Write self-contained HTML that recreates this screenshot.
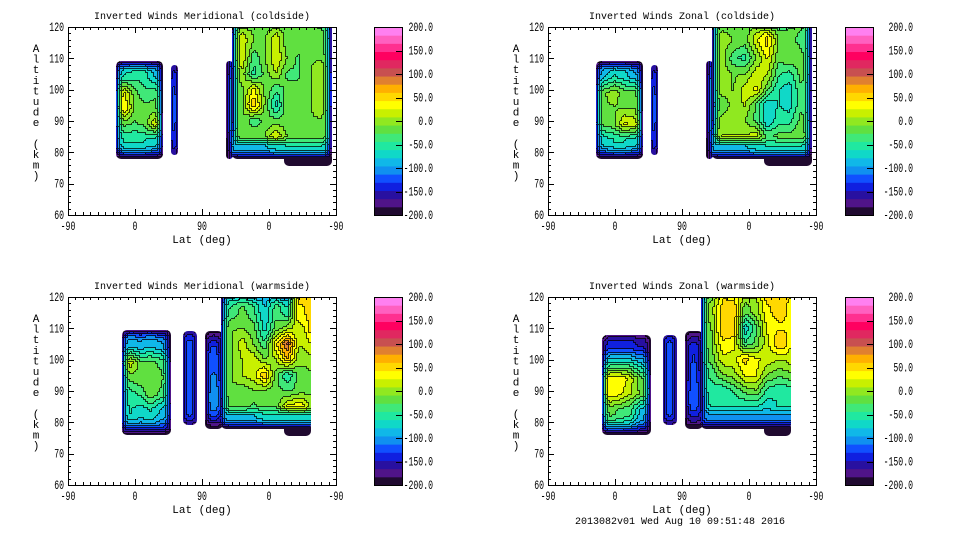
<!DOCTYPE html>
<html><head><meta charset="utf-8"><style>
html,body{margin:0;padding:0;background:#fff;}
svg{display:block;}
text{font-family:"Liberation Mono","DejaVu Sans Mono",monospace;fill:#000;}
</style></head><body>
<svg id="chart" width="960" height="540" viewBox="0 0 960 540" xmlns="http://www.w3.org/2000/svg">
<rect width="960" height="540" fill="#fff"/>
<text x="680" y="524" font-size="10" text-anchor="middle">2013082v01 Wed Aug 10 09:51:48 2016</text>
</svg>
<script>
// ---- colour scale ----
const colorLevels = ['#200a30','#501488','#2810a0','#1020e0','#1050ff','#1090f0','#10b8e8','#10d8c8','#20e8a0','#40e878','#60e040','#90e820','#c8f000','#ffff00','#ffd800','#ffb000','#e08030','#c85050','#e02860','#ff0060','#ff3090','#ff60c0','#ff80f0'];
const colorbarTicks = [-200,-150,-100,-50,0,50,100,150,200];
const xTickLabels = ['-90','0','90','0','-90'];
const xTickPos = [0,90,180,270,360];
const yTickLabels = [60,70,80,90,100,110,120];
const panelTitles = ['Inverted Winds Meridional (coldside)','Inverted Winds Zonal (coldside)','Inverted Winds Meridional (warmside)','Inverted Winds Zonal (warmside)'];

// ---- data: blocks (lat-axis units 0..360, altitude km, wind values m/s) ----
const tlA_lat=[64,77,90,103,116,128];
const tlA_alt=[109,104,99,94,89,84,78];
const tlA_val=[[-200,-190,-190,-190,-190,-200],[-190,-60,-50,-50,-80,-200],[-200,30,-20,-40,-30,-200],[-200,40,-10,-20,-20,-200],[-180,-20,-30,-20,20,-190],[-170,-60,-60,-60,-70,-170],[-200,-200,-200,-200,-200,-200]];
const tlB_lat=[138,143,148];
const tlB_alt=[108,94,79];
const tlB_val=[[-170,-160,-170],[-160,-125,-160],[-170,-160,-170]];
const tlE_lat=[290,355];
const tlE_alt=[80,75.5];
const tlE_val=[[-190,-190],[-200,-200]];
const tlN_lat=[212,222];
const tlN_alt=[109,95,78];
const tlN_val=[[-190,-120],[-200,-60],[-200,-150]];
const tlC_lat=[220,235,250,265,280,295,310,325,340,355];
const tlC_alt=[120,115,110,105,100,95,90,85,82,78];
const tlC_val=[
[-200,-20,-20,-20,-20,-20,-20,-20,-30,-200],
[-200,20,-10,-10,20,-20,-10,-10,-20,-200],
[-200,25,-40,-10,25,-10,-30,-10,-10,-200],
[-200,0,-50,-20,10,-30,-30,-10,0,-200],
[-200,-10,30,-10,-40,-20,-20,-10,0,-200],
[-200,-10,60,-10,-70,-10,-20,-10,0,-200],
[-200,-10,-40,-20,-20,-20,-20,-10,-10,-200],
[-150,-10,-10,-10,30,-10,-20,-20,-10,-200],
[-100,-80,-80,-80,-70,-60,-60,-60,-60,-200],
[-200,-200,-200,-200,-200,-200,-200,-200,-200,-200]];
const trA_lat=[64,77,90,103,116,128];
const trA_alt=[109,104,99,94,89,84,78];
const trA_val=[[-200,-190,-190,-190,-190,-200],[-190,-80,-60,-70,-90,-200],[-200,-10,0,-20,-20,-200],[-200,-10,-10,-10,-10,-200],[-180,-20,-10,30,20,-190],[-170,-70,-60,-60,-70,-170],[-200,-200,-200,-200,-200,-200]];
const trB_lat=[138,143,148];
const trB_alt=[108,94,79];
const trB_val=[[-170,-160,-170],[-160,-125,-160],[-170,-160,-170]];
const trE_lat=[290,355];
const trE_alt=[80,75.5];
const trE_val=[[-190,-190],[-200,-200]];
const trN_lat=[212,222];
const trN_alt=[109,95,78];
const trN_val=[[-190,-120],[-200,-60],[-200,-150]];
const trC_lat=[220,235,250,265,280,295,310,325,340,355];
const trC_alt=[120,115,110,105,100,95,90,85,82,78];
const trC_val=[
[-200,-20,-20,-20,-20,-30,-40,-30,-20,-200],
[-200,0,-10,-20,20,50,-10,-20,-30,-200],
[-200,0,-40,-50,-10,30,-20,-10,-20,-200],
[-200,0,-10,-10,20,10,-40,-50,-20,-200],
[-200,0,-10,20,30,-20,-60,-70,-30,-200],
[-200,-20,0,10,-30,-80,-60,-70,-30,-200],
[-200,0,0,-10,-30,-80,-50,-50,-20,-200],
[-150,10,10,10,20,-30,-20,-20,-10,-200],
[-100,-80,-80,-80,-70,-60,-60,-60,-60,-200],
[-200,-200,-200,-200,-200,-200,-200,-200,-200,-200]];
const blA_lat=[72,85,98,111,124,139];
const blA_alt=[109.5,104,99,94,89,84,76];
const blA_val=[[-200,-190,-190,-190,-190,-200],[-190,-80,-90,-80,-90,-200],[-200,20,-20,-20,-30,-200],[-200,-20,-10,-20,-20,-200],[-190,-50,-40,-10,-30,-190],[-170,-60,-70,-60,-80,-170],[-200,-200,-200,-200,-200,-200]];
const blB_lat=[155,164,173];
const blB_alt=[109,104,84,79];
const blB_val=[[-175,-165,-175],[-160,-125,-160],[-160,-125,-160],[-175,-175,-175]];
const blE_lat=[290,327];
const blE_alt=[80,75.5];
const blE_val=[[-190,-190],[-200,-200]];
const blN_lat=[184,196,208];
const blN_alt=[109,100,88,78];
const blN_val=[[-200,-190,-190],[-190,-120,-190],[-190,-100,-150],[-200,-200,-200]];
const blC_lat=[205,220,235,250,265,280,295,310,327];
const blC_alt=[120,115,110,105,100,95,90,85,82,78];
const blC_val=[
[-200,-90,-80,-100,-90,-100,-110,60,60],
[-200,-40,-20,-40,-80,-30,-60,40,60],
[-200,-10,-10,-20,-70,-20,0,20,60],
[-200,-10,20,-10,-40,40,100,10,30],
[-200,-10,10,20,-10,10,60,0,0],
[-200,-10,10,20,60,-20,-60,-20,-10],
[-200,-10,-20,-10,-10,-20,-30,-20,-10],
[-200,-20,-20,-30,-20,-20,30,40,-10],
[-150,-80,-80,-80,-70,-70,-70,-70,-70],
[-200,-200,-200,-200,-200,-200,-200,-200,-200]];
const brA_lat=[72,85,98,111,124,139];
const brA_alt=[108,104,99,94,89,84,76];
const brA_val=[[-200,-190,-190,-190,-190,-200],[-190,-140,-140,-140,-150,-200],[-200,-60,-60,-60,-80,-200],[-200,40,40,20,-20,-200],[-200,40,30,10,-10,-200],[-180,-20,-30,-40,-80,-190],[-200,-200,-200,-200,-200,-200]];
const brB_lat=[155,164,173];
const brB_alt=[108,104,84,79];
const brB_val=[[-175,-165,-175],[-160,-125,-160],[-160,-125,-160],[-175,-175,-175]];
const brE_lat=[290,327];
const brE_alt=[80,75.5];
const brE_val=[[-190,-190],[-200,-200]];
const brN_lat=[184,196,208];
const brN_alt=[109,100,88,78];
const brN_val=[[-200,-190,-190],[-190,-130,-190],[-190,-120,-160],[-200,-200,-200]];
const brC_lat=[205,220,235,250,265,280,295,310,327];
const brC_alt=[120,115,110,105,100,95,90,85,82,78];
const brC_val=[
[-200,-20,40,30,20,10,60,60,40],
[-200,0,50,60,-20,0,40,50,30],
[-200,-10,60,60,-80,-30,30,40,40],
[-200,-10,40,30,-40,-20,20,60,20],
[-200,-20,20,20,50,30,20,10,20],
[-200,-40,-10,0,30,30,-10,-20,-10],
[-200,-50,-60,-40,-20,-10,-50,-60,-50],
[-200,-60,-60,-60,-60,-60,-70,-60,-60],
[-150,-100,-100,-100,-100,-100,-100,-100,-100],
[-200,-200,-200,-200,-200,-200,-200,-200,-200]];

const panelBlocks=[
 [[tlE_lat,tlE_alt,tlE_val],[tlA_lat,tlA_alt,tlA_val],[tlB_lat,tlB_alt,tlB_val],[tlN_lat,tlN_alt,tlN_val],[tlC_lat,tlC_alt,tlC_val]],
 [[trE_lat,trE_alt,trE_val],[trA_lat,trA_alt,trA_val],[trB_lat,trB_alt,trB_val],[trN_lat,trN_alt,trN_val],[trC_lat,trC_alt,trC_val]],
 [[blE_lat,blE_alt,blE_val],[blA_lat,blA_alt,blA_val],[blB_lat,blB_alt,blB_val],[blN_lat,blN_alt,blN_val],[blC_lat,blC_alt,blC_val]],
 [[brE_lat,brE_alt,brE_val],[brA_lat,brA_alt,brA_val],[brB_lat,brB_alt,brB_val],[brN_lat,brN_alt,brN_val],[brC_lat,brC_alt,brC_val]]
];
const panelNames=['meridional-coldside','zonal-coldside','meridional-warmside','zonal-warmside'];

// ---- scales ----
const PX0=68,PX1=336,PY0=27,PY1=215;
function xs(u){return PX0+u*(PX1-PX0)/360;}
function ys(a){return PY1-(a-60)*(PY1-PY0)/60;}
function ux(x){return (x-PX0)*360/(PX1-PX0);}
function ay(y){return 60+(PY1-y)*60/(PY1-PY0);}
function band(v){const n=colorLevels.length;let i=Math.floor((v+200)/(400/n));return Math.max(0,Math.min(n-1,i));}
function seg(arr,v,desc){
  const n=arr.length;let i,t;
  if(desc? v>=arr[0]:v<=arr[0]){i=0;t=0;}
  else if(desc? v<=arr[n-1]:v>=arr[n-1]){i=n-2;t=1;}
  else{for(i=0;i<n-1;i++){const a=arr[i],b=arr[i+1];if(desc?(v<=a&&v>=b):(v>=a&&v<=b)){t=(v-a)/(b-a);break;}}}
  if(n>2){ if(i===0) t=1-Math.pow(1-t,2.5); else if(i===n-2) t=Math.pow(t,2.5); }
  return [i,t];
}
function interp(lat,alt,val,u,a){
  const [i,t]=seg(lat,u,false);const [j,s]=seg(alt,a,true);
  const v00=val[j][i],v01=val[j][i+1],v10=val[j+1][i],v11=val[j+1][i+1];
  return (v00*(1-t)+v01*t)*(1-s)+(v10*(1-t)+v11*t)*s;
}
const NS='http://www.w3.org/2000/svg';
const svg=document.getElementById('chart');
function mk(tag,attrs,parent){const e=document.createElementNS(NS,tag);for(const k in attrs)e.setAttribute(k,attrs[k]);parent.appendChild(e);return e;}
function label(parent,x,y,str,anchor){
  const t=mk('text',{x:x,y:y,'font-size':13,'text-anchor':anchor,textLength:(str.length*4.9).toFixed(1),lengthAdjust:'spacingAndGlyphs'},parent);
  t.textContent=str;return t;
}

const offsets=[[0,0],[480,0],[0,270],[480,270]];
const STEP=2;
panelBlocks.forEach((blocks,p)=>{
  const [dx,dy]=offsets[p];
  const g=mk('g',{transform:`translate(${dx},${dy})`},svg);
  
  
  const defs=mk('defs',{},g);
  const plot=mk('g',{},g);
  
  
  blocks.forEach((blk,b)=>{
    const [lat,alt,val]=blk;
    const x0=Math.round(xs(lat[0])),x1=Math.round(xs(lat[lat.length-1]));
    const yT=Math.round(ys(Math.max(...alt))),yB=Math.round(ys(Math.min(...alt)));
    const cid='clip'+p+'_'+b;
    const cp=mk('clipPath',{id:cid},defs);
    const topIsPlotTop = Math.max(...alt)>=120;
    mk('rect',{x:x0,y:topIsPlotTop?yT-8:yT,width:x1-x0,height:(yB-yT)+(topIsPlotTop?8:0),rx:Math.min(5,(x1-x0)/2)},cp);
    const bg=mk('g',{'clip-path':`url(#${cid})`},plot);
    
    
    const cols=Math.ceil((x1-x0)/STEP),rows=Math.ceil((yB-yT)/STEP);
    const grid=[];
    for(let r=0;r<rows;r++){const row=[];const a=ay(yT+r*STEP+STEP/2);
      for(let c=0;c<cols;c++){const u=ux(x0+c*STEP+STEP/2);row.push(band(interp(lat,alt,val,u,a)));}
      grid.push(row);}
    for(let r=0;r<rows;r++){let c=0;
      while(c<cols){const bd=grid[r][c];let e=c+1;while(e<cols&&grid[r][e]===bd)e++;
        const cell=mk('rect',{x:x0+c*STEP,y:yT+r*STEP,width:(e-c)*STEP,height:STEP,fill:colorLevels[bd]},bg);
        
        
        c=e;}}
    let d='';
    for(let r=0;r<rows;r++)for(let c=0;c<cols;c++){
      const bd=grid[r][c];const xx=x0+c*STEP,yy=yT+r*STEP;
      if(c+1<cols&&grid[r][c+1]!==bd)d+=`M${xx+STEP-0.5} ${yy}v${STEP}`;
      if(r+1<rows&&grid[r+1][c]!==bd)d+=`M${xx} ${yy+STEP-0.5}h${STEP}`;
    }
    const cl=mk('path',{d:d,stroke:'#000','stroke-width':1,fill:'none',opacity:0.75},bg);
    
    
  });
  mk('rect',{x:PX0-2,y:PY0-12,width:PX1-PX0+4,height:12,fill:'#fff'},g);
  const frame=mk('rect',{x:PX0+0.5,y:PY0+0.5,width:PX1-PX0,height:PY1-PY0,fill:'none',stroke:'#000','stroke-width':1},g);
  
  
  let td='';
  for(let a=60;a<=120;a+=2){const y=Math.round(ys(a))+0.5;const L=(a%10===0)?6:3;td+=`M${PX0} ${y}h${L}M${PX1} ${y}h${-L}`;}
  for(let u=0;u<=360;u+=10){const x=Math.round(xs(u))+0.5;const L=(u%90===0)?6:3;td+=`M${x} ${PY1}v${-L}M${x} ${PY0}v${L}`;}
  const ticks=mk('path',{d:td,stroke:'#000','stroke-width':1,fill:'none'},g);
  
  
  yTickLabels.forEach(a=>{const t=label(g,PX0-4,ys(a)+4,String(a),'end');
    
    });
  xTickPos.forEach((u,i)=>{const t=label(g,xs(u),230,xTickLabels[i],'middle');
    
    });
  const xt=mk('text',{x:202,y:243,'font-size':11,'text-anchor':'middle'},g);xt.textContent='Lat (deg)';
  
  
  const tt=mk('text',{x:202,y:19,'font-size':10,'text-anchor':'middle'},g);tt.textContent=panelTitles[p];
  
  
  const yt=mk('text',{x:36,y:52,'font-size':11,'text-anchor':'middle'},g);
  
  
  'Altitude (km)'.split('').forEach((ch,i)=>{const s=mk('tspan',{x:36,y:52+i*10.6},yt);s.textContent=ch===' '?'\u00a0':ch;});
  const cb=mk('g',{},g);
  
  
  const cx0=p%2===0?374:365,cw=28,n=colorLevels.length;
  colorLevels.forEach((col,i)=>{const y0=PY1-(i+1)*(PY1-PY0)/n;const r=mk('rect',{x:cx0,y:y0,width:cw,height:(PY1-PY0)/n+0.5,fill:col},cb);
    
    });
  mk('rect',{x:cx0+0.5,y:PY0+0.5,width:cw,height:PY1-PY0,fill:'none',stroke:'#000'},cb);
  colorbarTicks.forEach(v=>{const y=PY1-(v+200)/400*(PY1-PY0);
    mk('path',{d:`M${cx0+cw-6} ${Math.round(y)+0.5}h6`,stroke:'#000'},cb);
    const t=label(cb,433,y+4,v.toFixed(1),'end');
    
    });
});
</script>
</body></html>
